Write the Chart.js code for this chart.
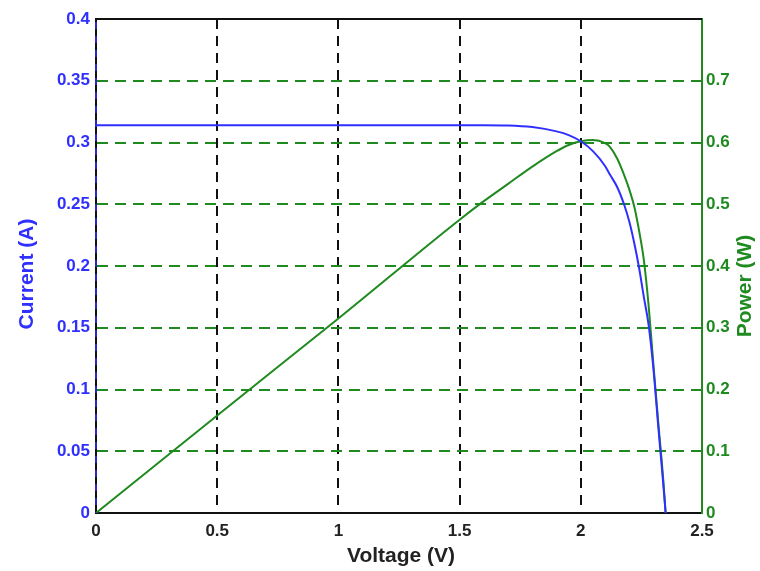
<!DOCTYPE html>
<html>
<head>
<meta charset="utf-8">
<script src="https://cdn.jsdelivr.net/npm/chart.js@4/dist/chart.umd.min.js"></script>
<style>
  html, body { margin: 0; padding: 0; background: #fff; }
  #wrap { width: 760px; height: 571px; position: relative; }
</style>
</head>
<body>
<div id="wrap"><canvas id="ivChart"></canvas></div>
<script>
// values
const voltage = [0, 0.5, 1.0, 1.5, 1.6, 1.7, 1.8, 1.9, 1.95, 2.0, 2.05, 2.1, 2.12, 2.15, 2.18, 2.2, 2.22, 2.24, 2.26, 2.28, 2.3, 2.32, 2.34, 2.35];
const current = [0.314, 0.314, 0.314, 0.314, 0.314, 0.3138, 0.3125, 0.309, 0.306, 0.301, 0.293, 0.281, 0.274, 0.264, 0.249, 0.236, 0.219, 0.199, 0.175, 0.152, 0.116, 0.069, 0.024, 0];
const power   = [0, 0.158, 0.315, 0.475, 0.505, 0.533, 0.561, 0.586, 0.596, 0.602, 0.604, 0.599, 0.593, 0.574, 0.546, 0.524, 0.497, 0.458, 0.41, 0.335, 0.238, 0.145, 0.055, 0];

const xTicks = [0, 0.5, 1, 1.5, 2, 2.5];
const currentTicks = [0, 0.05, 0.1, 0.15, 0.2, 0.25, 0.3, 0.35, 0.4];
const powerTicks = [0, 0.1, 0.2, 0.3, 0.4, 0.5, 0.6, 0.7];

const BLUE = "#2f2fff";
const GREEN = "#1f8a1f";
const tickFont = { family: "Liberation Sans, Arial, sans-serif", size: 17, weight: "bold" };

function pts(ys) {
  return voltage.map((v, i) => ({ x: v, y: ys[i] }));
}

// frame + titles drawn after the plot
const framePlugin = {
  id: "frame",
  afterDraw(chart) {
    const { ctx, chartArea: a } = chart;
    ctx.save();
    // top border
    ctx.strokeStyle = "#111";
    ctx.lineWidth = 2;
    ctx.beginPath();
    ctx.moveTo(a.left - 1, a.top);
    ctx.lineTo(a.right, a.top);
    ctx.stroke();
    // blue dashes on the left border
    ctx.strokeStyle = BLUE;
    ctx.lineWidth = 1.5;
    ctx.setLineDash([7, 7]);
    ctx.beginPath();
    ctx.moveTo(a.left, a.top + 3);
    ctx.lineTo(a.left, a.bottom);
    ctx.stroke();
    ctx.setLineDash([]);

    // axis titles
    ctx.font = "bold 21px Liberation Sans, Arial, sans-serif";
    ctx.textAlign = "center";
    ctx.textBaseline = "middle";
    ctx.fillStyle = "#222";
    ctx.fillText("Voltage (V)", 401, 556);

    ctx.fillStyle = BLUE;
    ctx.translate(27, 274);
    ctx.rotate(-Math.PI / 2);
    ctx.fillText("Current (A)", 0, 0);
    ctx.setTransform(1, 0, 0, 1, 0, 0);

    ctx.fillStyle = GREEN;
    ctx.translate(745, 286);
    ctx.rotate(-Math.PI / 2);
    ctx.fillText("Power (W)", 0, 0);
    ctx.restore();
  }
};

new Chart(document.getElementById("ivChart"), {
  type: "line",
  data: {
    datasets: [
      {
        label: "Current",
        data: pts(current),
        yAxisID: "y",
        borderColor: BLUE,
        borderWidth: 2,
        pointRadius: 0,
        cubicInterpolationMode: "monotone"
      },
      {
        label: "Power",
        data: pts(power),
        yAxisID: "y2",
        borderColor: GREEN,
        borderWidth: 2,
        pointRadius: 0,
        cubicInterpolationMode: "monotone"
      }
    ]
  },
  options: {
    responsive: true,
    maintainAspectRatio: false,
    animation: false,
    layout: { padding: { top: 19, right: 0, left: 0, bottom: 0 } },
    plugins: { legend: { display: false }, tooltip: { enabled: false } },
    scales: {
      x: {
        type: "linear",
        min: 0,
        max: 2.5,
        afterBuildTicks: s => { s.ticks = xTicks.map(v => ({ value: v })); },
        afterFit: s => { s.height = 58; },
        ticks: {
          color: "#222",
          font: tickFont,
          padding: 8,
          maxRotation: 0,
          callback: v => String(v)
        },
        grid: {
          drawTicks: false,
          lineWidth: 2,
          color: c => (c.index === 0 || c.index === xTicks.length - 1) ? "rgba(0,0,0,0)" : "#111"
        },
        border: { display: true, color: "#111", width: 2, dash: [10, 7] }
      },
      y: {
        position: "left",
        min: 0,
        max: 0.4,
        afterBuildTicks: s => { s.ticks = currentTicks.map(v => ({ value: v })); },
        afterFit: s => { s.width = 96; },
        ticks: {
          color: BLUE,
          font: tickFont,
          padding: 6,
          callback: v => String(v)
        },
        grid: {
          drawTicks: false,
          lineWidth: 2,
          color: c => (c.index === 0 || c.index === currentTicks.length - 1) ? "rgba(0,0,0,0)" : GREEN
        },
        border: { display: true, color: "#111", width: 2, dash: [11, 7] }
      },
      y2: {
        position: "right",
        min: 0,
        max: 0.8,
        afterBuildTicks: s => { s.ticks = powerTicks.map(v => ({ value: v })); },
        afterFit: s => { s.width = 58; },
        ticks: {
          color: GREEN,
          font: tickFont,
          padding: 4,
          callback: v => String(v)
        },
        grid: { display: false, drawTicks: false },
        border: { display: true, color: GREEN, width: 2 }
      }
    }
  },
  plugins: [framePlugin]
});
</script>
</body>
</html>
